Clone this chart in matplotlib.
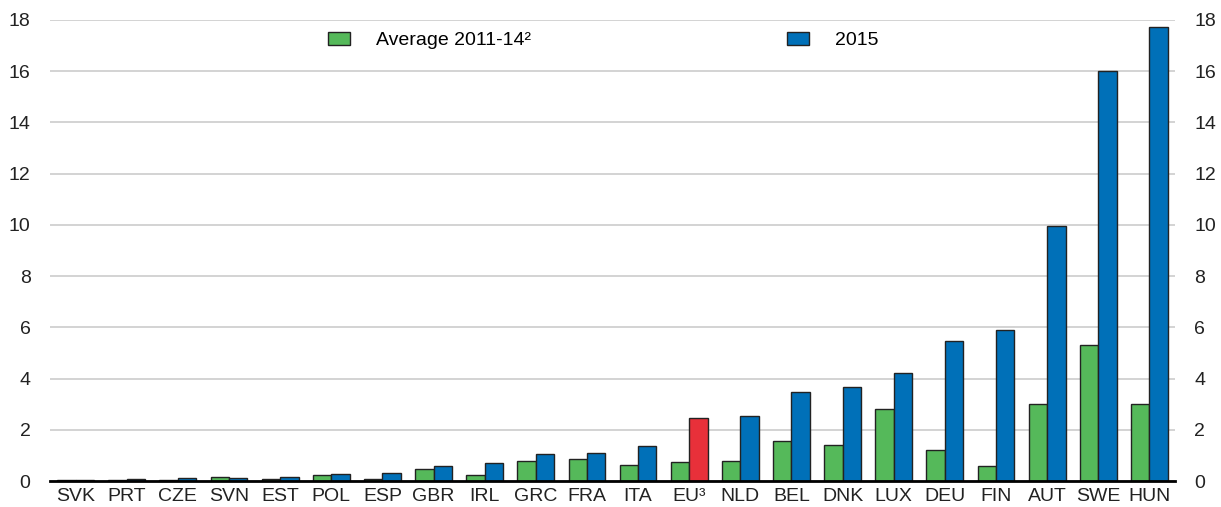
import numpy as np
import matplotlib.pyplot as plt

countries = ["SVK", "PRT", "CZE", "SVN", "EST", "POL", "ESP", "GBR", "IRL", "GRC", "FRA",
             "ITA", "EU³", "NLD", "BEL", "DNK", "LUX", "DEU", "FIN", "AUT", "SWE", "HUN"]
avg_2011_14 = [0.05, 0.03, 0.05, 0.15, 0.08, 0.22, 0.07, 0.45, 0.25, 0.78, 0.87,
               0.62, 0.73, 0.80, 1.57, 1.42, 2.83, 1.22, 0.58, 3.00, 5.30, 3.02]
val_2015 = [0.03, 0.06, 0.12, 0.13, 0.17, 0.27, 0.32, 0.60, 0.70, 1.05, 1.08,
            1.37, 2.45, 2.55, 3.47, 3.68, 4.20, 5.45, 5.88, 9.97, 16.02, 17.72]

plt.rcParams['font.family'] = ['Liberation Sans', 'DejaVu Sans']

green = "#55B95A"
blue = "#0070B8"
red = "#E8303A"

fig = plt.figure(figsize=(12.21, 5.07), dpi=100)
ax = fig.add_axes([50 / 1221, 26 / 507, 1125 / 1221, 461 / 507])

x = np.arange(len(countries))
w = 0.36
colors_2015 = [red if c.startswith("EU") else blue for c in countries]
b1 = ax.bar(x - w / 2, avg_2011_14, w, color=green, edgecolor="#222222", linewidth=1.0,
            label="Average 2011-14²", zorder=3)
b2 = ax.bar(x + w / 2, val_2015, w, color=colors_2015, edgecolor="#222222", linewidth=1.0,
            label="2015", zorder=3)

ax.set_xlim(-0.5, len(countries) - 0.5)
ax.set_ylim(0, 18)
ax.set_yticks(range(0, 19, 2))
ax.set_xticks(x)
ax.set_xticklabels(countries)
ax.yaxis.grid(True, color="#cccccc", linewidth=1.2, zorder=0)
ax.tick_params(axis="both", length=0, labelsize=14, colors="#222222")
ax.tick_params(axis="y", pad=14, labelright=True)
ax.tick_params(axis="x", pad=5)
for s in ["top", "left", "right"]:
    ax.spines[s].set_visible(False)
ax.spines["bottom"].set_linewidth(2)
ax.spines["bottom"].set_zorder(4)

leg_kw = dict(frameon=False, fontsize=14, handlelength=1.15, handleheight=0.6,
              handletextpad=1.3, borderpad=0, borderaxespad=0)
leg1 = ax.legend([b1], ["Average 2011-14²"], loc="center left",
                 bbox_to_anchor=(0.247, 0.955), **leg_kw)
ax.add_artist(leg1)
ax.legend([b2.patches[0]], ["2015"], loc="center left",
          bbox_to_anchor=(0.655, 0.955), **leg_kw)

fig.savefig("out.png", dpi=100)
